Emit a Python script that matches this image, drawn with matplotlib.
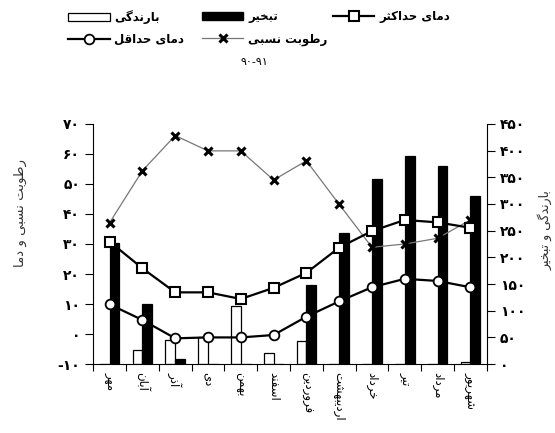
import numpy as np
import matplotlib
matplotlib.use("Agg")
import matplotlib.pyplot as plt
from matplotlib.patches import Patch
from matplotlib.lines import Line2D

# data (year 90-91)
months = ["مهر", "آبان", "آذر", "دی", "بهمن", "اسفند",
          "فروردین", "اردیبهشت", "خرداد", "تیر", "مرداد", "شهریور"]
rel_humidity = [37.1, 54.4, 66.1, 61.0, 61.0, 51.3, 57.7, 43.2, 28.9, 30.0, 31.9, 38.0]
temp_max = [30.8, 21.9, 13.9, 13.9, 11.7, 15.4, 20.4, 28.8, 34.3, 38.0, 37.2, 35.4]
temp_min = [9.9, 4.7, -1.4, -1.1, -1.1, -0.3, 5.8, 10.9, 15.6, 18.4, 17.7, 15.6]
precip = [0, 27, 46, 50, 109, 20, 44, 0, 0, 0, 0, 4]
evap = [226, 113, 10, 0, 0, 0, 149, 246, 347, 390, 371, 314]
left_ticks = [-10, 0, 10, 20, 30, 40, 50, 60, 70]
right_ticks = [0, 50, 100, 150, 200, 250, 300, 350, 400, 450]

# ---- minimal persian shaping (matplotlib has no arabic shaping) ----
FORMS = {
    "ا": ("\uFE8D", "\uFE8E", None, None), "آ": ("\uFE81", "\uFE82", None, None),
    "د": ("\uFEA9", "\uFEAA", None, None), "ذ": ("\uFEAB", "\uFEAC", None, None),
    "ر": ("\uFEAD", "\uFEAE", None, None), "ز": ("\uFEAF", "\uFEB0", None, None),
    "ژ": ("\uFB8A", "\uFB8B", None, None), "و": ("\uFEED", "\uFEEE", None, None),
    "ب": ("\uFE8F", "\uFE90", "\uFE91", "\uFE92"), "پ": ("\uFB56", "\uFB57", "\uFB58", "\uFB59"),
    "ت": ("\uFE95", "\uFE96", "\uFE97", "\uFE98"), "ث": ("\uFE99", "\uFE9A", "\uFE9B", "\uFE9C"),
    "ج": ("\uFE9D", "\uFE9E", "\uFE9F", "\uFEA0"), "ح": ("\uFEA1", "\uFEA2", "\uFEA3", "\uFEA4"),
    "خ": ("\uFEA5", "\uFEA6", "\uFEA7", "\uFEA8"), "س": ("\uFEB1", "\uFEB2", "\uFEB3", "\uFEB4"),
    "ش": ("\uFEB5", "\uFEB6", "\uFEB7", "\uFEB8"), "ط": ("\uFEC1", "\uFEC2", "\uFEC3", "\uFEC4"),
    "ف": ("\uFED1", "\uFED2", "\uFED3", "\uFED4"), "ق": ("\uFED5", "\uFED6", "\uFED7", "\uFED8"),
    "ک": ("\uFB8E", "\uFB8F", "\uFB90", "\uFB91"), "گ": ("\uFB92", "\uFB93", "\uFB94", "\uFB95"),
    "ل": ("\uFEDD", "\uFEDE", "\uFEDF", "\uFEE0"), "م": ("\uFEE1", "\uFEE2", "\uFEE3", "\uFEE4"),
    "ن": ("\uFEE5", "\uFEE6", "\uFEE7", "\uFEE8"), "ه": ("\uFEE9", "\uFEEA", "\uFEEB", "\uFEEC"),
    "ی": ("\uFBFC", "\uFBFD", "\uFBFE", "\uFBFF"),
}


def fa(text):
    out = []
    for i, ch in enumerate(text):
        if ch not in FORMS:
            out.append(ch)
            continue
        prev = text[i - 1] if i > 0 else ""
        nxt = text[i + 1] if i + 1 < len(text) else ""
        join_prev = prev in FORMS and FORMS[prev][2] is not None
        join_next = FORMS[ch][2] is not None and nxt in FORMS
        f = FORMS[ch]
        if join_prev and join_next:
            out.append(f[3])
        elif join_prev:
            out.append(f[1])
        elif join_next:
            out.append(f[2])
        else:
            out.append(f[0])
    return "".join(out)[::-1]


def fa_num(n):
    s = str(n)
    return s.translate(str.maketrans("0123456789", "۰۱۲۳۴۵۶۷۸۹"))


plt.rcParams["font.family"] = ["DejaVu Sans"]

fig = plt.figure(figsize=(5.55, 4.33), dpi=100)
ax = fig.add_axes([0.168, 0.159, 0.877 - 0.168, 0.714 - 0.159])
ax2 = ax.twinx()

x = np.arange(len(months))

# bars on the right axis
ax2.bar(x - 0.15, precip, 0.3, color="white", edgecolor="black", linewidth=0.9)
ax2.bar(x + 0.15, evap, 0.3, color="black", edgecolor="black", linewidth=0.9)
ax2.set_ylim(0, 450)
ax2.set_yticks(right_ticks)
ax2.set_yticklabels([fa_num(v) for v in right_ticks], fontweight="bold", fontsize=10)

# lines on the left axis, drawn above the bars
ax.set_zorder(ax2.get_zorder() + 1)
ax.patch.set_visible(False)
ax.plot(x, rel_humidity, color="#777777", lw=0.9, marker="x", ms=6,
        mec="black", mew=2.2)
ax.plot(x, temp_max, color="black", lw=1.6, marker="s", ms=7.5,
        mfc="white", mec="black", mew=1.5)
ax.plot(x, temp_min, color="black", lw=1.6, marker="o", ms=7,
        mfc="white", mec="black", mew=1.3)
ax.set_ylim(-10, 70)
ax.set_yticks(left_ticks)
ax.set_yticklabels([fa_num(v) for v in left_ticks], fontweight="bold", fontsize=10)
ax.set_xlim(-0.5, len(months) - 0.5)

ax.set_xticks(np.arange(-0.5, len(months)), labels=[])
ax.set_xticks(x, labels=[fa(m) for m in months], minor=True, rotation=270, fontsize=8.5)
ax.tick_params(axis="x", which="minor", length=0, pad=6)
ax.tick_params(axis="x", which="major", length=5, direction="out")
ax.tick_params(axis="y", length=6, direction="out")
ax2.tick_params(axis="y", length=6, direction="out")

for a in (ax, ax2):
    a.spines["top"].set_visible(False)
ax.spines["right"].set_visible(False)
ax2.spines["left"].set_visible(False)
ax2.spines["bottom"].set_visible(False)

# legend, three columns laid out as in the original
prop = {"weight": "bold", "size": 8.5}
h_pre = Patch(facecolor="white", edgecolor="black", lw=0.9)
h_eva = Patch(facecolor="black", edgecolor="black")
h_max = Line2D([], [], color="black", lw=1.6, marker="s", ms=7, mfc="white", mew=1.5)
h_min = Line2D([], [], color="black", lw=1.6, marker="o", ms=7, mfc="white", mew=1.3)
h_rh = Line2D([], [], color="#777777", lw=0.9, marker="x", ms=6, mec="black", mew=2.2)
cols = [([h_pre, h_min], ["بارندگی", "دمای حداقل"], 0.108),
        ([h_eva, h_rh], ["تبخیر", "رطوبت نسبی"], 0.349),
        ([h_max], ["دمای حداکثر"], 0.585)]
for hs, ls, lx in cols:
    fig.legend(hs, [fa(s) for s in ls], loc="upper left", bbox_to_anchor=(lx, 0.995),
               frameon=False, prop=prop, handlelength=3.5, handleheight=0.7,
               handletextpad=0.4, labelspacing=0.75, borderaxespad=0.3)

fig.text(254 / 555, 1 - 62 / 433, "۹۰-۹۱", fontsize=8, ha="center", va="center")
fig.text(20 / 555, 1 - 213 / 433, fa("رطوبت نسبی و دما"), rotation=90,
         fontsize=9.5, ha="center", va="center", color="#333333")
fig.text(545 / 555, 1 - 230 / 433, fa("بارندگی و تبخیر"), rotation=90,
         fontsize=9, ha="center", va="center", color="#333333")

fig.savefig("out.png", dpi=100)
